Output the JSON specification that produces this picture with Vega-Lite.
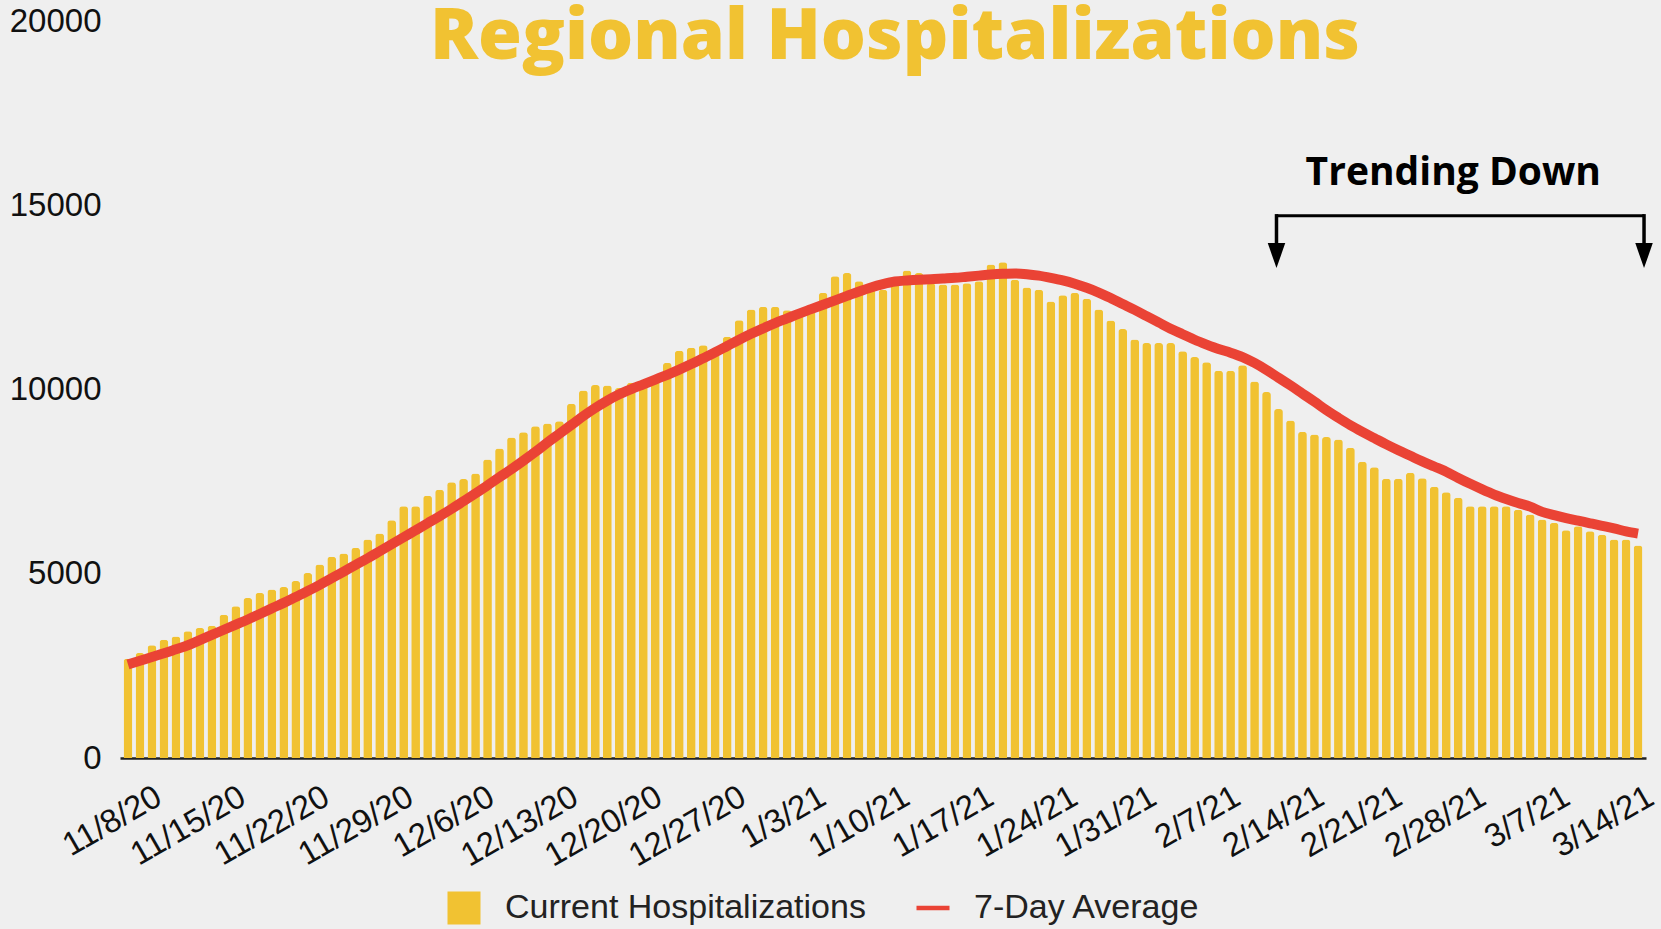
{
  "$schema": "https://vega.github.io/schema/vega-lite/v6.json",
  "autosize": {"type": "none"},
  "padding": {"left": 120, "top": 21, "right": 15, "bottom": 171},
  "width": 1526,
  "height": 737,
  "background": "#efefef",
  "config": {"view": {"stroke": null}, "font": "Liberation Sans"},
  "data": {"values": [
    {"date": "11/8/20", "hosp": 2690, "avg": 2540},
    {"date": "11/9/20", "hosp": 2850, "avg": 2640},
    {"date": "11/10/20", "hosp": 3060, "avg": 2740},
    {"date": "11/11/20", "hosp": 3210, "avg": 2840},
    {"date": "11/12/20", "hosp": 3300, "avg": 2950},
    {"date": "11/13/20", "hosp": 3440, "avg": 3060},
    {"date": "11/14/20", "hosp": 3530, "avg": 3200},
    {"date": "11/15/20", "hosp": 3590, "avg": 3340},
    {"date": "11/16/20", "hosp": 3890, "avg": 3480},
    {"date": "11/17/20", "hosp": 4120, "avg": 3620},
    {"date": "11/18/20", "hosp": 4340, "avg": 3760},
    {"date": "11/19/20", "hosp": 4480, "avg": 3910},
    {"date": "11/20/20", "hosp": 4570, "avg": 4060},
    {"date": "11/21/20", "hosp": 4640, "avg": 4210},
    {"date": "11/22/20", "hosp": 4800, "avg": 4370},
    {"date": "11/23/20", "hosp": 5020, "avg": 4530},
    {"date": "11/24/20", "hosp": 5250, "avg": 4700},
    {"date": "11/25/20", "hosp": 5460, "avg": 4880},
    {"date": "11/26/20", "hosp": 5550, "avg": 5060},
    {"date": "11/27/20", "hosp": 5700, "avg": 5240},
    {"date": "11/28/20", "hosp": 5930, "avg": 5420},
    {"date": "11/29/20", "hosp": 6090, "avg": 5610},
    {"date": "11/30/20", "hosp": 6450, "avg": 5800},
    {"date": "12/1/20", "hosp": 6830, "avg": 5990},
    {"date": "12/2/20", "hosp": 6830, "avg": 6180},
    {"date": "12/3/20", "hosp": 7120, "avg": 6370},
    {"date": "12/4/20", "hosp": 7280, "avg": 6560},
    {"date": "12/5/20", "hosp": 7480, "avg": 6760},
    {"date": "12/6/20", "hosp": 7570, "avg": 6970},
    {"date": "12/7/20", "hosp": 7720, "avg": 7180},
    {"date": "12/8/20", "hosp": 8100, "avg": 7400},
    {"date": "12/9/20", "hosp": 8400, "avg": 7620},
    {"date": "12/10/20", "hosp": 8700, "avg": 7840},
    {"date": "12/11/20", "hosp": 8840, "avg": 8070},
    {"date": "12/12/20", "hosp": 9000, "avg": 8310},
    {"date": "12/13/20", "hosp": 9080, "avg": 8560},
    {"date": "12/14/20", "hosp": 9140, "avg": 8800},
    {"date": "12/15/20", "hosp": 9610, "avg": 9040},
    {"date": "12/16/20", "hosp": 9970, "avg": 9280},
    {"date": "12/17/20", "hosp": 10120, "avg": 9500},
    {"date": "12/18/20", "hosp": 10110, "avg": 9700},
    {"date": "12/19/20", "hosp": 10040, "avg": 9870},
    {"date": "12/20/20", "hosp": 10180, "avg": 10010},
    {"date": "12/21/20", "hosp": 10150, "avg": 10140},
    {"date": "12/22/20", "hosp": 10250, "avg": 10270},
    {"date": "12/23/20", "hosp": 10720, "avg": 10400},
    {"date": "12/24/20", "hosp": 11050, "avg": 10540},
    {"date": "12/25/20", "hosp": 11130, "avg": 10690},
    {"date": "12/26/20", "hosp": 11200, "avg": 10850},
    {"date": "12/27/20", "hosp": 11000, "avg": 11010},
    {"date": "12/28/20", "hosp": 11430, "avg": 11180},
    {"date": "12/29/20", "hosp": 11880, "avg": 11350},
    {"date": "12/30/20", "hosp": 12170, "avg": 11510},
    {"date": "12/31/20", "hosp": 12240, "avg": 11660},
    {"date": "1/1/21", "hosp": 12240, "avg": 11800},
    {"date": "1/2/21", "hosp": 12150, "avg": 11930},
    {"date": "1/3/21", "hosp": 12100, "avg": 12060},
    {"date": "1/4/21", "hosp": 12200, "avg": 12180},
    {"date": "1/5/21", "hosp": 12620, "avg": 12300},
    {"date": "1/6/21", "hosp": 13070, "avg": 12420},
    {"date": "1/7/21", "hosp": 13160, "avg": 12540},
    {"date": "1/8/21", "hosp": 12940, "avg": 12660},
    {"date": "1/9/21", "hosp": 12850, "avg": 12770},
    {"date": "1/10/21", "hosp": 12710, "avg": 12860},
    {"date": "1/11/21", "hosp": 13000, "avg": 12930},
    {"date": "1/12/21", "hosp": 13230, "avg": 12960},
    {"date": "1/13/21", "hosp": 13160, "avg": 12980},
    {"date": "1/14/21", "hosp": 12880, "avg": 12990},
    {"date": "1/15/21", "hosp": 12850, "avg": 13010},
    {"date": "1/16/21", "hosp": 12850, "avg": 13030},
    {"date": "1/17/21", "hosp": 12880, "avg": 13060},
    {"date": "1/18/21", "hosp": 12940, "avg": 13090},
    {"date": "1/19/21", "hosp": 13390, "avg": 13120},
    {"date": "1/20/21", "hosp": 13450, "avg": 13140},
    {"date": "1/21/21", "hosp": 12980, "avg": 13150},
    {"date": "1/22/21", "hosp": 12770, "avg": 13130},
    {"date": "1/23/21", "hosp": 12710, "avg": 13090},
    {"date": "1/24/21", "hosp": 12390, "avg": 13030},
    {"date": "1/25/21", "hosp": 12560, "avg": 12960},
    {"date": "1/26/21", "hosp": 12620, "avg": 12870},
    {"date": "1/27/21", "hosp": 12460, "avg": 12760},
    {"date": "1/28/21", "hosp": 12170, "avg": 12630},
    {"date": "1/29/21", "hosp": 11870, "avg": 12480},
    {"date": "1/30/21", "hosp": 11640, "avg": 12320},
    {"date": "1/31/21", "hosp": 11360, "avg": 12160},
    {"date": "2/1/21", "hosp": 11260, "avg": 11990},
    {"date": "2/2/21", "hosp": 11260, "avg": 11820},
    {"date": "2/3/21", "hosp": 11260, "avg": 11650},
    {"date": "2/4/21", "hosp": 11040, "avg": 11500},
    {"date": "2/5/21", "hosp": 10880, "avg": 11350},
    {"date": "2/6/21", "hosp": 10740, "avg": 11220},
    {"date": "2/7/21", "hosp": 10510, "avg": 11100},
    {"date": "2/8/21", "hosp": 10510, "avg": 11000},
    {"date": "2/9/21", "hosp": 10660, "avg": 10880},
    {"date": "2/10/21", "hosp": 10220, "avg": 10720},
    {"date": "2/11/21", "hosp": 9930, "avg": 10530},
    {"date": "2/12/21", "hosp": 9470, "avg": 10320},
    {"date": "2/13/21", "hosp": 9160, "avg": 10110},
    {"date": "2/14/21", "hosp": 8850, "avg": 9890},
    {"date": "2/15/21", "hosp": 8780, "avg": 9670},
    {"date": "2/16/21", "hosp": 8710, "avg": 9440},
    {"date": "2/17/21", "hosp": 8640, "avg": 9230},
    {"date": "2/18/21", "hosp": 8420, "avg": 9030},
    {"date": "2/19/21", "hosp": 8040, "avg": 8850},
    {"date": "2/20/21", "hosp": 7890, "avg": 8680},
    {"date": "2/21/21", "hosp": 7580, "avg": 8510},
    {"date": "2/22/21", "hosp": 7580, "avg": 8350},
    {"date": "2/23/21", "hosp": 7740, "avg": 8200},
    {"date": "2/24/21", "hosp": 7590, "avg": 8050},
    {"date": "2/25/21", "hosp": 7360, "avg": 7910},
    {"date": "2/26/21", "hosp": 7210, "avg": 7770},
    {"date": "2/27/21", "hosp": 7060, "avg": 7600},
    {"date": "2/28/21", "hosp": 6830, "avg": 7440},
    {"date": "3/1/21", "hosp": 6830, "avg": 7290},
    {"date": "3/2/21", "hosp": 6830, "avg": 7150},
    {"date": "3/3/21", "hosp": 6830, "avg": 7030},
    {"date": "3/4/21", "hosp": 6740, "avg": 6920},
    {"date": "3/5/21", "hosp": 6610, "avg": 6820},
    {"date": "3/6/21", "hosp": 6470, "avg": 6680},
    {"date": "3/7/21", "hosp": 6380, "avg": 6590},
    {"date": "3/8/21", "hosp": 6180, "avg": 6510},
    {"date": "3/9/21", "hosp": 6290, "avg": 6440},
    {"date": "3/10/21", "hosp": 6150, "avg": 6370},
    {"date": "3/11/21", "hosp": 6060, "avg": 6300},
    {"date": "3/12/21", "hosp": 5930, "avg": 6230},
    {"date": "3/13/21", "hosp": 5930, "avg": 6150},
    {"date": "3/14/21", "hosp": 5770, "avg": 6090}
  ]},
  "encoding": {
    "x": {
      "field": "date", "type": "ordinal",
      "scale": {"type": "band", "paddingInner": 0.27, "paddingOuter": 0.3,
        "domain": ["11/8/20","11/9/20","11/10/20","11/11/20","11/12/20","11/13/20","11/14/20","11/15/20","11/16/20","11/17/20","11/18/20","11/19/20","11/20/20","11/21/20","11/22/20","11/23/20","11/24/20","11/25/20","11/26/20","11/27/20","11/28/20","11/29/20","11/30/20","12/1/20","12/2/20","12/3/20","12/4/20","12/5/20","12/6/20","12/7/20","12/8/20","12/9/20","12/10/20","12/11/20","12/12/20","12/13/20","12/14/20","12/15/20","12/16/20","12/17/20","12/18/20","12/19/20","12/20/20","12/21/20","12/22/20","12/23/20","12/24/20","12/25/20","12/26/20","12/27/20","12/28/20","12/29/20","12/30/20","12/31/20","1/1/21","1/2/21","1/3/21","1/4/21","1/5/21","1/6/21","1/7/21","1/8/21","1/9/21","1/10/21","1/11/21","1/12/21","1/13/21","1/14/21","1/15/21","1/16/21","1/17/21","1/18/21","1/19/21","1/20/21","1/21/21","1/22/21","1/23/21","1/24/21","1/25/21","1/26/21","1/27/21","1/28/21","1/29/21","1/30/21","1/31/21","2/1/21","2/2/21","2/3/21","2/4/21","2/5/21","2/6/21","2/7/21","2/8/21","2/9/21","2/10/21","2/11/21","2/12/21","2/13/21","2/14/21","2/15/21","2/16/21","2/17/21","2/18/21","2/19/21","2/20/21","2/21/21","2/22/21","2/23/21","2/24/21","2/25/21","2/26/21","2/27/21","2/28/21","3/1/21","3/2/21","3/3/21","3/4/21","3/5/21","3/6/21","3/7/21","3/8/21","3/9/21","3/10/21","3/11/21","3/12/21","3/13/21","3/14/21"]},
      "axis": {
        "title": null,
        "values": ["11/8/20","11/15/20","11/22/20","11/29/20","12/6/20","12/13/20","12/20/20","12/27/20","1/3/21","1/10/21","1/17/21","1/24/21","1/31/21","2/7/21","2/14/21","2/21/21","2/28/21","3/7/21","3/14/21"],
        "labelAngle": -30, "labelAlign": "right", "labelBaseline": "top",
        "labelFontSize": 33, "labelFont": "Liberation Sans", "labelColor": "#111",
        "labelPadding": 22,
        "labelOffset": {"condition": [
          {"test": "indexof(['11/8/20','11/15/20','11/22/20','11/29/20'], datum.value) >= 0", "value": 23},
          {"test": "indexof(['12/6/20','12/13/20','12/20/20','12/27/20'], datum.value) >= 0", "value": 20},
          {"test": "indexof(['1/3/21','1/10/21','1/17/21','1/24/21'], datum.value) >= 0", "value": 16},
          {"test": "indexof(['1/31/21','2/7/21','2/14/21'], datum.value) >= 0", "value": 11}
        ], "value": 5},
        "ticks": false, "tickSize": 0,
        "domain": true, "domainColor": "#222", "domainWidth": 2.5, "grid": false, "labelOverlap": false
      }
    }
  },
  "layer": [
    {
      "mark": {"type": "bar", "cornerRadiusTopLeft": 3, "cornerRadiusTopRight": 3},
      "encoding": {
        "y": {"field": "hosp", "type": "quantitative",
          "scale": {"domain": [0, 20000], "nice": false},
          "axis": {"title": null, "values": [0, 5000, 10000, 15000, 20000], "format": "d", "grid": false, "domain": false, "ticks": false, "tickSize": 0, "labelFontSize": 33, "labelFont": "Liberation Sans", "labelColor": "#111", "labelPadding": 19}},
        "color": {"datum": "Current Hospitalizations", "type": "nominal",
          "scale": {"domain": ["Current Hospitalizations", "7-Day Average"], "range": ["#f1c232", "#ea4335"]},
          "legend": {"orient": "none", "legendX": 327, "legendY": 870, "direction": "horizontal", "title": null,
            "labelFontSize": 34, "labelFont": "Liberation Sans", "labelColor": "#222", "labelLimit": 600, "symbolSize": 1089,
            "labelOffset": 24, "columnPadding": 50, "symbolStrokeWidth": 0,
            "encode": {"symbols": {"update": {
              "shape": {"signal": "datum.value === '7-Day Average' ? 'M-1,-0.14H1V0.14H-1Z' : 'square'"},
              "fill": {"scale": "color", "field": "value"},
              "stroke": {"value": "transparent"},
              "opacity": {"value": 1}}}}}}
      }
    },
    {
      "mark": {"type": "line", "strokeWidth": 10, "interpolate": "monotone"},
      "encoding": {
        "y": {"field": "avg", "type": "quantitative"},
        "color": {"datum": "7-Day Average", "type": "nominal"}
      }
    },
    {
      "data": {"values": [{}]},
      "mark": {"type": "text", "text": "Regional Hospitalizations", "font": "Open Sans", "fontWeight": 800, "fontSize": 71, "color": "#f1c232", "align": "center", "baseline": "alphabetic"},
      "encoding": {"x": {"datum": "1/11/21"}, "y": {"datum": 18980}}
    },
    {
      "data": {"values": [{}]},
      "mark": {"type": "text", "text": "Trending Down", "font": "Open Sans", "fontWeight": "bold", "fontSize": 39, "color": "#000", "align": "center", "baseline": "middle", "dx": 7},
      "encoding": {"x": {"datum": "2/26/21"}, "y": {"datum": 15885}}
    },
    {
      "data": {"values": [{}]},
      "mark": {"type": "rule", "strokeWidth": 3, "color": "#000", "x2Offset": 6, "xOffset": -2},
      "encoding": {"x": {"datum": "2/12/21"}, "x2": {"datum": "3/14/21"}, "y": {"datum": 14718}}
    },
    {
      "data": {"values": [{}]},
      "mark": {"type": "rule", "strokeWidth": 3.5, "color": "#000", "xOffset": -2},
      "encoding": {"x": {"datum": "2/12/21"}, "y": {"datum": 14760}, "y2": {"datum": 13900}}
    },
    {
      "data": {"values": [{}]},
      "mark": {"type": "rule", "strokeWidth": 3.5, "color": "#000", "xOffset": 6},
      "encoding": {"x": {"datum": "3/14/21"}, "y": {"datum": 14760}, "y2": {"datum": 13900}}
    },
    {
      "data": {"values": [{}]},
      "mark": {"type": "point", "shape": "M-0.7,-1L0.7,-1L0,1Z", "size": 625, "filled": true, "color": "#000", "opacity": 1, "xOffset": -2},
      "encoding": {"x": {"datum": "2/12/21"}, "y": {"datum": 13633}}
    },
    {
      "data": {"values": [{}]},
      "mark": {"type": "point", "shape": "M-0.7,-1L0.7,-1L0,1Z", "size": 625, "filled": true, "color": "#000", "opacity": 1, "xOffset": 6},
      "encoding": {"x": {"datum": "3/14/21"}, "y": {"datum": 13633}}
    }
  ]
}
